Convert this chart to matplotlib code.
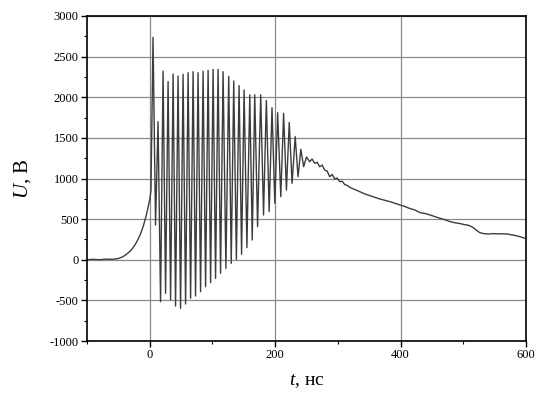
import matplotlib.pyplot as plt
import numpy as np

plt.rcParams['font.family'] = 'Liberation Serif'
plt.rcParams['mathtext.fontset'] = 'custom'
plt.rcParams['mathtext.rm'] = 'Liberation Serif'
plt.rcParams['mathtext.it'] = 'Liberation Serif:italic'
plt.rcParams['axes.unicode_minus'] = False

# rise before the pulse (t in ns, U in V)
rise_t = [-100, -90, -80, -70, -60, -50, -45, -40, -35, -30, -25, -20, -15, -10, -5, 0, 2]
rise_v = [0, 5, 0, 8, 5, 15, 30, 50, 80, 115, 165, 230, 310, 420, 560, 740, 850]

# oscillation peaks
peak_t = [5.3, 13.3, 21.3, 29.3, 37.3, 45.2, 53.2, 61.2, 69.2, 77.1, 85.1, 93.1, 101.1, 109, 117,
          126, 134, 142.5, 150.5, 159.6, 167.5, 177, 186, 195, 204, 213.5, 222.5, 232, 241, 250]
peak_v = [2738, 1700, 2322, 2192, 2286, 2261, 2282, 2302, 2315, 2302, 2320, 2330, 2343, 2343, 2315,
          2258, 2200, 2143, 2089, 2030, 2030, 2030, 1960, 1870, 1810, 1802, 1690, 1515, 1360, 1265]

# oscillation troughs
trough_t = [9.3, 17.3, 25.3, 33.3, 41.2, 49.2, 57.2, 65.2, 73.1, 81.1, 89.1, 97.1, 105, 113, 121.5,
            130, 138.2, 146.5, 155, 163.5, 172, 181.5, 190.5, 199.5, 209, 218, 227, 236.5, 245.5]
trough_v = [428, -516, -413, -495, -569, -598, -545, -475, -446, -393, -331, -282, -229, -167, -106,
            -44, 5, 67, 150, 243, 407, 551, 592, 695, 776, 858, 940, 1022, 1145]

# slow decay after the oscillations
tail_t = [255, 259, 263, 267, 271, 275, 279, 283, 287, 291, 295, 299, 303, 307, 311, 315, 319, 325,
          330, 335, 343, 351, 359, 367, 375, 383, 391, 399, 407, 415, 423, 431, 439, 447, 455, 463,
          471, 479, 487, 495, 502, 508, 514, 520, 526, 532, 540, 548, 555, 562, 570, 578, 585, 592, 600]
tail_v = [1207, 1240, 1187, 1200, 1145, 1165, 1104, 1090, 1022, 1050, 995, 1005, 961, 965, 925, 915,
          892, 870, 855, 838, 810, 789, 768, 748, 732, 715, 695, 674, 655, 630, 612, 580, 570, 551,
          530, 510, 492, 469, 455, 445, 432, 425, 405, 370, 335, 322, 317, 322, 318, 320, 317, 305,
          295, 280, 260]

osc_t = np.array(peak_t + trough_t)
osc_v = np.array(peak_v + trough_v)
order = np.argsort(osc_t)
t = np.concatenate([rise_t, osc_t[order], tail_t])
u = np.concatenate([rise_v, osc_v[order], tail_v])

fig = plt.figure(figsize=(5.36, 3.93), dpi=100)
ax = fig.add_axes([0.1623, 0.1323, 0.819, 0.827])

ax.plot(t, u, color='#3c3c3c', lw=1.0)

ax.set_xlim(-100, 600)
ax.set_ylim(-1000, 3000)
ax.set_xticks([0, 200, 400, 600])
ax.set_xticks([-100, 100, 300, 500], minor=True)
ax.set_yticks(np.arange(-1000, 3001, 500))
ax.set_yticks(np.arange(-750, 3000, 500), minor=True)
ax.grid(True, which='major', color='#8a8a8a', lw=0.9)
ax.tick_params(which='major', direction='out', length=4, width=1, labelsize=9, pad=2)
ax.tick_params(which='minor', direction='out', length=2.5, width=0.8)
for s in ax.spines.values():
    s.set_linewidth(1.2)

ax.set_xlabel('$t$, нс', fontsize=14, labelpad=8)
ax.set_ylabel('$U$, В', fontsize=15, labelpad=12)

fig.savefig('out.png', dpi=100)
